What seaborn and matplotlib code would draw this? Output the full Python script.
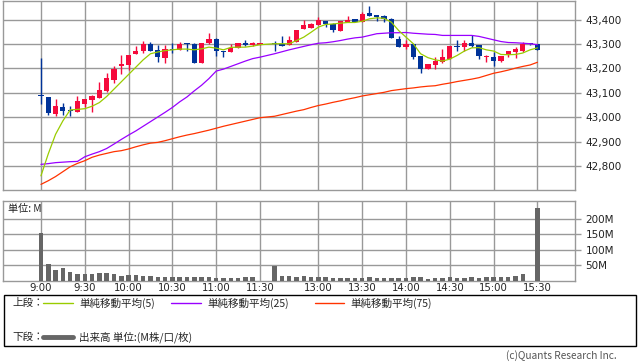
import matplotlib
matplotlib.use("Agg")
import matplotlib.pyplot as plt
import seaborn as sns
import numpy as np
import pandas as pd
from matplotlib.patches import Rectangle
from matplotlib.lines import Line2D

# ---------------- data ----------------
morning_times = [f"{9 + m // 60}:{m % 60:02d}" for m in range(0, 151, 5)]       # 9:00 .. 11:30
afternoon_times = [f"{12 + (30 + m) // 60}:{(30 + m) % 60:02d}" for m in range(0, 181, 5)]  # 12:30 .. 15:30
times = morning_times + afternoon_times

opens = [43090, 43082, 43014, 43041, 43031, 43021, 43053, 43069, 43080, 43106,
         43151, 43210, 43212, 43257, 43273, 43300, 43276, 43242, 43280, 43276,
         43302, 43299, 43222, 43306, 43322, 43271, 43267, 43283, 43306, 43294,
         43297,
         43305, 43301, 43297, 43310, 43361, 43365, 43376, 43396, 43382, 43355,
         43388, 43403, 43390, 43426, 43418, 43414, 43404, 43321, 43287, 43299,
         43249, 43199, 43212, 43227, 43240, 43290, 43287, 43306, 43294, 43245,
         43248, 43230, 43254, 43269, 43271, 43299, 43300]
highs = [43242, 43082, 43074, 43057, 43045, 43086, 43074, 43089, 43144, 43180,
         43210, 43253, 43253, 43290, 43312, 43310, 43294, 43294, 43303, 43310,
         43304, 43303, 43306, 43346, 43325, 43271, 43301, 43306, 43318, 43307,
         43303,
         43314, 43331, 43331, 43359, 43400, 43385, 43410, 43396, 43386, 43396,
         43416, 43403, 43429, 43454, 43420, 43420, 43407, 43331, 43317, 43299,
         43249, 43219, 43246, 43278, 43290, 43317, 43317, 43335, 43294, 43253,
         43267, 43249, 43272, 43289, 43309, 43300, 43300]
lows = [43053, 43010, 43006, 43011, 43006, 43021, 43040, 43022, 43078, 43103,
        43142, 43177, 43192, 43257, 43265, 43273, 43225, 43222, 43263, 43276,
        43271, 43222, 43222, 43300, 43252, 43246, 43267, 43283, 43291, 43291,
        43297,
        43273, 43291, 43297, 43310, 43361, 43365, 43376, 43369, 43348, 43355,
        43388, 43389, 43388, 43414, 43393, 43389, 43324, 43287, 43278, 43237,
        43181, 43199, 43197, 43224, 43240, 43273, 43273, 43287, 43238, 43226,
        43208, 43226, 43246, 43242, 43267, 43297, 43276]
closes = [43085, 43018, 43045, 43026, 43027, 43065, 43074, 43086, 43110, 43159,
          43199, 43218, 43253, 43273, 43300, 43273, 43246, 43280, 43275, 43300,
          43299, 43222, 43306, 43322, 43272, 43268, 43282, 43306, 43295, 43303,
          43302,
          43301, 43291, 43317, 43359, 43376, 43380, 43399, 43380, 43358, 43396,
          43400, 43389, 43423, 43414, 43410, 43403, 43324, 43287, 43301, 43246,
          43197, 43219, 43229, 43245, 43290, 43287, 43306, 43291, 43252, 43251,
          43230, 43249, 43272, 43278, 43299, 43298, 43276]

ma5 = [42760, 42850, 42930, 42985, 43030, 43032, 43035, 43045, 43060, 43085,
       43115, 43145, 43175, 43205, 43235, 43260, 43267, 43273, 43276, 43279,
       43279, 43276, 43280, 43287, 43283, 43276, 43286, 43287, 43287, 43291,
       43297,
       43301, 43301, 43301, 43314, 43328, 43348, 43369, 43380, 43382, 43385,
       43388, 43388, 43393, 43403, 43407, 43405, 43389, 43355, 43328, 43301,
       43260, 43244, 43235, 43230, 43238, 43253, 43271, 43284, 43285, 43276,
       43271, 43257, 43256, 43257, 43263, 43276, 43284]
ma25 = [42807, 42810, 42814, 42816, 42818, 42819, 42838, 42849, 42859, 42872,
        42890, 42909, 42927, 42944, 42963, 42982, 43001, 43020, 43040, 43063,
        43083, 43108, 43131, 43158, 43189, 43197, 43208, 43219, 43230, 43240,
        43246,
        43260, 43268, 43276, 43283, 43290, 43297, 43303, 43305, 43309, 43314,
        43320, 43325, 43328, 43335, 43342, 43344, 43346, 43346, 43347, 43344,
        43342, 43340, 43339, 43335, 43335, 43335, 43335, 43335, 43331, 43324,
        43317, 43310, 43306, 43305, 43303, 43301, 43297]
ma75 = [42725, 42740, 42757, 42777, 42797, 42811, 42822, 42836, 42845, 42852,
        42859, 42863, 42870, 42879, 42887, 42894, 42897, 42904, 42912, 42920,
        42927, 42933, 42940, 42947, 42955, 42963, 42970, 42977, 42984, 42991,
        42998,
        43004, 43011, 43018, 43025, 43031, 43040, 43048, 43054, 43061, 43067,
        43074, 43080, 43087, 43092, 43097, 43102, 43109, 43113, 43117, 43120,
        43124, 43127, 43129, 43135, 43140, 43146, 43151, 43156, 43162, 43171,
        43180, 43186, 43193, 43201, 43208, 43214, 43225]

volume_m = [155, 55, 35, 43, 29, 22, 22, 22, 26, 26,
            22, 16, 19, 19, 16, 16, 13, 13, 13, 13,
            13, 13, 13, 13, 11, 11, 11, 11, 13, 13,
            1,
            48, 16, 16, 14, 16, 14, 14, 14, 11, 11,
            11, 11, 11, 14, 11, 11, 11, 11, 11, 14,
            14, 8, 11, 11, 14, 11, 11, 14, 11, 14,
            14, 14, 14, 16, 21, 1, 234]

tick_times = ["9:00", "9:30", "10:00", "10:30", "11:00", "11:30",
              "13:00", "13:30", "14:00", "14:30", "15:00", "15:30"]
price_ticks = [42800, 42900, 43000, 43100, 43200, 43300, 43400]
volume_ticks = [50, 100, 150, 200]

# ---------------- layout helpers ----------------
# one empty slot for the lunch break between 11:30 and 12:30
slot = {t: i for i, t in enumerate(morning_times)}
slot.update({t: i + len(morning_times) + 1 for i, t in enumerate(afternoon_times)})
df = pd.DataFrame({"time": times, "open": opens, "high": highs, "low": lows,
                   "close": closes, "ma5": ma5, "ma25": ma25, "ma75": ma75,
                   "vol": volume_m})
df["pos"] = df["time"].map(slot)

UP = "#f50a3c"
DOWN = "#003399"
C5 = "#99cc00"
C25 = "#9900ff"
C75 = "#ff3300"
GRID = "#999999"

sns.set_theme(style="white")
plt.rcParams["font.family"] = ["DejaVu Sans", "Noto Sans CJK JP"]

W, H = 638, 362
fig = plt.figure(figsize=(W / 100, H / 100), dpi=100)
fig.patch.set_facecolor("white")


def rect(l, t, r, b):
    return [l / W, 1 - b / H, (r - l) / W, (b - t) / H]


ax = fig.add_axes(rect(3, 0.5, 575, 190))
axv = fig.add_axes(rect(3, 201, 575, 281))

xlim = (-5.2, 73.15)
tick_pos = [slot[t] for t in tick_times]

for a in (ax, axv):
    a.set_facecolor("white")
    a.set_xlim(*xlim)
    a.set_xticks(tick_pos)
    a.grid(True, color=GRID, lw=1)
    a.set_axisbelow(True)
    for s in a.spines.values():
        s.set_color(GRID)
        s.set_linewidth(1)
    a.yaxis.tick_right()
    a.tick_params(axis="y", length=4, width=1, color=GRID, labelsize=7.5,
                  pad=3.5, labelcolor="#222222")

# ---------------- candles ----------------
colors = [UP if c >= o else DOWN for o, c in zip(df["open"], df["close"])]
ax.vlines(df["pos"], df["low"], df["high"], colors=colors, lw=1, zorder=3)
bottoms = np.minimum(df["open"], df["close"])
heights = np.maximum(np.abs(df["close"] - df["open"]), 4)
ax.bar(df["pos"], heights, bottom=bottoms, width=0.72, color=colors,
       linewidth=0, zorder=4)

# moving averages
for col, colr in (("ma75", C75), ("ma25", C25), ("ma5", C5)):
    sns.lineplot(data=df, x="pos", y=col, ax=ax, color=colr, lw=0.9,
                 estimator=None, sort=False, zorder=5)

ax.set_ylim(42702, 43478)
ax.set_yticks(price_ticks)
ax.set_yticklabels([f"{v:,}" for v in price_ticks])
ax.tick_params(axis="x", length=0, labelbottom=False)
ax.set_xlabel("")
ax.set_ylabel("")

# ---------------- volume ----------------
axv.bar(df["pos"], df["vol"], width=0.62, color="#666666", linewidth=0, zorder=3)
axv.set_ylim(0, 257)
axv.set_yticks(volume_ticks)
axv.set_yticklabels([f"{v}M" for v in volume_ticks])
axv.set_xticklabels(tick_times)
axv.tick_params(axis="x", length=0, labelsize=7.3, pad=1.5, labelcolor="#222222")
axv.set_xlabel("")
axv.set_ylabel("")
fig.text(8 / W, 1 - 209 / H, "単位: M", va="center", ha="left", fontsize=7.3,
         family=["Noto Sans CJK JP", "DejaVu Sans"], color="#222222")

# ---------------- legend box ----------------
fig.add_artist(Rectangle((3.5 / W, 1 - 346 / H), 632.5 / W, 51 / H,
                         transform=fig.transFigure, fill=False,
                         ec="black", lw=1))
y1 = 1 - 303 / H
y2 = 1 - 337 / H
lf = ["Noto Sans CJK JP", "DejaVu Sans"]
fs = 7.6
fig.text(12 / W, y1, "上段：", va="center", fontsize=fs, family=lf)
fig.text(12 / W, y2, "下段：", va="center", fontsize=fs, family=lf)
for (x0, x1, colr, label) in ((43, 73, C5, "単純移動平均(5)"),
                              (171, 201, C25, "単純移動平均(25)"),
                              (315, 344, C75, "単純移動平均(75)")):
    fig.add_artist(Line2D([x0 / W, x1 / W], [y1, y1], color=colr, lw=1,
                          transform=fig.transFigure))
    fig.text((x1 + 6) / W, y1, label, va="center", fontsize=fs, family=lf)
fig.add_artist(Line2D([43 / W, 73 / W], [y2, y2], color="#666666", lw=3.5,
                      transform=fig.transFigure))
fig.text(79 / W, y2, "出来高 単位:(M株/口/枚)", va="center", fontsize=fs, family=lf)

fig.text(617 / W, 1 - 356 / H, "(c)Quants Research Inc.", ha="right",
         va="center", fontsize=7.3, color="#555555", family=lf)

fig.savefig("out.png", dpi=100, facecolor="white")
